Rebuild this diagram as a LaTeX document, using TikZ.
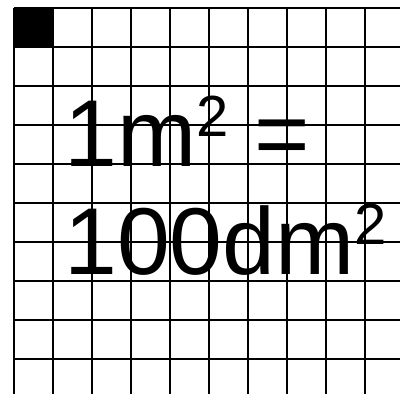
\documentclass[tikz,border=0pt]{standalone}
\usepackage{fontspec}
\setmainfont{Liberation Sans}
\newcommand{\bigtxt}{\fontsize{95bp}{100bp}\selectfont}
\newcommand{\supr}[1]{\raisebox{30bp}{\fontsize{58bp}{60bp}\selectfont #1}}
\begin{document}
\begin{tikzpicture}[x=1bp,y=1bp,
  gridline/.style={line width=1.8bp,black},
  bigtext/.style={anchor=base west,inner sep=0pt,font=\bigtxt}]
\useasboundingbox (0,0) rectangle (400,-394);
\fill[black] (14,-8) rectangle (53,-47);
\foreach \k in {0,...,9}{
  \draw[gridline] ({14+39*\k},-8) -- ({14+39*\k},-395);
  \draw[gridline] (14,{-8-39*\k}) -- (401,{-8-39*\k});
}
\node[bigtext] (l1) at (64,-166) {1m\supr{2} =};
\node[bigtext] (l2) at (64,-274) {100dm\supr{2}};
\end{tikzpicture}
\end{document}
